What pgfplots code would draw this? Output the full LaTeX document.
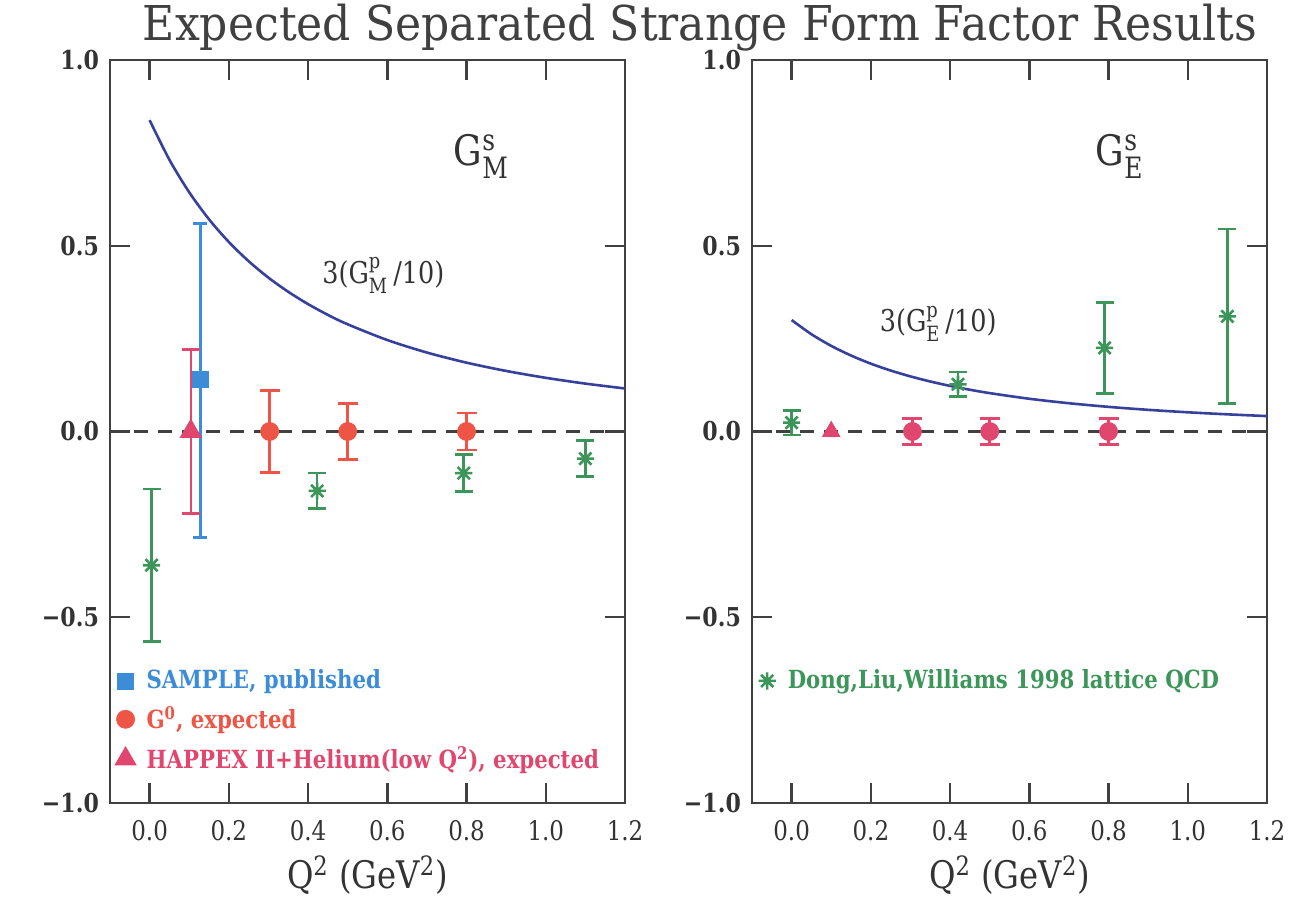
\documentclass[border=0pt]{standalone}
\usepackage{fontspec}
\setmainfont{DejaVu Serif}[FakeStretch=0.85]
\newfontfamily\titlefont{DejaVu Serif}[FakeStretch=0.92]
\usepackage{amsmath}
\usepackage{pgfplots}
\pgfplotsset{compat=1.18}

\definecolor{sampleblue}{RGB}{60,140,215}
\definecolor{gzred}{RGB}{238,85,70}
\definecolor{happink}{RGB}{225,70,110}
\definecolor{dlwgreen}{RGB}{60,150,90}
\definecolor{curveblue}{RGB}{55,65,155}

% eight-armed star used for the lattice points
\pgfdeclareplotmark{star8}{%
  \pgfpathmoveto{\pgfqpoint{-\pgfplotmarksize}{0pt}}%
  \pgfpathlineto{\pgfqpoint{\pgfplotmarksize}{0pt}}%
  \pgfpathmoveto{\pgfqpoint{0pt}{-\pgfplotmarksize}}%
  \pgfpathlineto{\pgfqpoint{0pt}{\pgfplotmarksize}}%
  \pgfpathmoveto{\pgfqpoint{-0.7071\pgfplotmarksize}{-0.7071\pgfplotmarksize}}%
  \pgfpathlineto{\pgfqpoint{0.7071\pgfplotmarksize}{0.7071\pgfplotmarksize}}%
  \pgfpathmoveto{\pgfqpoint{-0.7071\pgfplotmarksize}{0.7071\pgfplotmarksize}}%
  \pgfpathlineto{\pgfqpoint{0.7071\pgfplotmarksize}{-0.7071\pgfplotmarksize}}%
  \pgfusepathqstroke}

\pgfplotsset{
  panel/.style={
    scale only axis, width=257.5pt, height=371.5pt,
    xmin=-0.1, xmax=1.2, ymin=-1, ymax=1,
    xtick={0,0.2,0.4,0.6,0.8,1.0,1.2},
    xticklabels={0.0,0.2,0.4,0.6,0.8,1.0,1.2},
    ytick={-1,-0.5,0,0.5,1},
    yticklabels={−1.0,−0.5,0.0,0.5,1.0},
    tick align=inside, major tick length=10pt,
    axis line style={line width=1.3pt, black!75},
    every tick/.style={line width=1.2pt, black!75},
    tick label style={font=\fontsize{13.5}{13.5}\selectfont, black!80},
    yticklabel style={xshift=-2pt, font=\bfseries\fontsize{13}{13}\selectfont},
    xticklabel style={yshift=-5pt},
    xlabel={Q\textsuperscript{2} (GeV\textsuperscript{2})},
    xlabel style={font=\fontsize{19}{19}\selectfont, black!80, yshift=-1pt},
    legend cell align=left,
    legend style={at={(0.012,0.185)}, anchor=north west, draw=none, fill=none,
      font=\bfseries\fontsize{12.5}{13}\selectfont, row sep=3.5pt, inner sep=0pt},
  },
  errs/.style={error bars/.cd, y dir=both, y explicit,
    error bar style={line width=1.3pt, solid},
    error mark options={rotate=90, mark size=#1, line width=1.3pt}},
  zeroline/.style={forget plot, black!75, line width=1.2pt, dash pattern=on 7pt off 5pt},
}

\begin{document}
\begin{tikzpicture}
\useasboundingbox (-55pt,-48.5pt) rectangle (589.5pt,401.5pt);

\node[font=\titlefont\fontsize{24}{24}\selectfont, black!75] at (295pt,387.5pt)
  {Expected Separated Strange Form Factor Results};

% ---------------- G_M^s ----------------
\begin{axis}[panel, at={(0pt,0pt)}, anchor=south west]
\addplot[forget plot, curveblue, line width=1.3pt, smooth] coordinates {
  (0.00,0.838)(0.05,0.7314)(0.10,0.6439)(0.15,0.5711)(0.20,0.5101)
  (0.25,0.4584)(0.30,0.4141)(0.35,0.3760)(0.40,0.3429)(0.45,0.3139)
  (0.50,0.2885)(0.60,0.2462)(0.70,0.2125)(0.80,0.1853)(0.90,0.1630)
  (1.00,0.1445)(1.10,0.1289)(1.20,0.1158)};
\addplot[zeroline] coordinates {(-0.1,0)(1.2,0)};
\addplot[forget plot, only marks, dlwgreen, mark=star8, mark size=4.3pt,
  line width=1.3pt, errs=4.5pt] coordinates {
  (0.005,-0.36) +- (0,0.205)
  (0.423,-0.16) +- (0,0.048)
  (0.793,-0.112) +- (0,0.05)
  (1.10,-0.073) +- (0,0.048)};
\addplot[only marks, sampleblue, mark=square*, mark size=4pt, errs=3.5pt]
  coordinates {(0.128,0.14) += (0,0.42) -= (0,0.425)};
\addlegendentry{\hspace{4pt}\textcolor{sampleblue}{SAMPLE, published}}
\addplot[only marks, gzred, mark=*, mark size=4.5pt, errs=5pt] coordinates {
  (0.303,0) +- (0,0.11)
  (0.50,0) +- (0,0.075)
  (0.80,0) +- (0,0.05)};
\addlegendentry{\hspace{4pt}\textcolor{gzred}{G\textsuperscript{0}, expected}}
\addplot[only marks, happink, mark=triangle*, mark size=5pt, line width=1.5pt, errs=4.5pt]
  coordinates {(0.104,0) +- (0,0.22)};
\addlegendentry{\hspace{4pt}\textcolor{happink}{HAPPEX II+Helium(low Q\textsuperscript{2}), expected}}
\node[anchor=west, font=\fontsize{21}{21}\selectfont, black!80] at (axis cs:0.75,0.74)
  {G$^{\text{s}}_{\text{M}}$};
\node[font=\fontsize{15}{15}\selectfont, black!80] at (axis cs:0.59,0.42)
  {3(G$^{\text{p}}_{\text{M}}$\,/10)};
\end{axis}

% ---------------- G_E^s ----------------
\begin{axis}[panel, at={(321pt,0pt)}, anchor=south west]
\addplot[forget plot, curveblue, line width=1.3pt, smooth] coordinates {
  (0.00,0.300)(0.05,0.2618)(0.10,0.2305)(0.15,0.2045)(0.20,0.1826)
  (0.25,0.1641)(0.30,0.1483)(0.35,0.1346)(0.40,0.1227)(0.45,0.1124)
  (0.50,0.1033)(0.60,0.0881)(0.70,0.0761)(0.80,0.0663)(0.90,0.0583)
  (1.00,0.0517)(1.10,0.0462)(1.20,0.0415)};
\addplot[zeroline] coordinates {(-0.1,0)(1.2,0)};
\addplot[forget plot, only marks, happink, mark=*, mark size=4.5pt, errs=5pt] coordinates {
  (0.305,0) +- (0,0.035)
  (0.50,0) +- (0,0.035)
  (0.80,0) +- (0,0.035)};
\addplot[forget plot, only marks, happink, mark=triangle*, mark size=5pt]
  coordinates {(0.10,0)};
\addplot[only marks, dlwgreen, mark=star8, mark size=4.3pt,
  line width=1.3pt, errs=4.5pt] coordinates {
  (0.0,0.024) +- (0,0.033)
  (0.42,0.127) +- (0,0.033)
  (0.79,0.225) +- (0,0.123)
  (1.10,0.31) +- (0,0.235)};
\addlegendentry{\hspace{4pt}\textcolor{dlwgreen}{Dong,Liu,Williams 1998 lattice QCD}}
\node[anchor=west, font=\fontsize{21}{21}\selectfont, black!80] at (axis cs:0.75,0.74)
  {G$^{\text{s}}_{\text{E}}$};
\node[font=\fontsize{15}{15}\selectfont, black!80] at (axis cs:0.37,0.29)
  {3(G$^{\text{p}}_{\text{E}}$\,/10)};
\end{axis}
\end{tikzpicture}
\end{document}
